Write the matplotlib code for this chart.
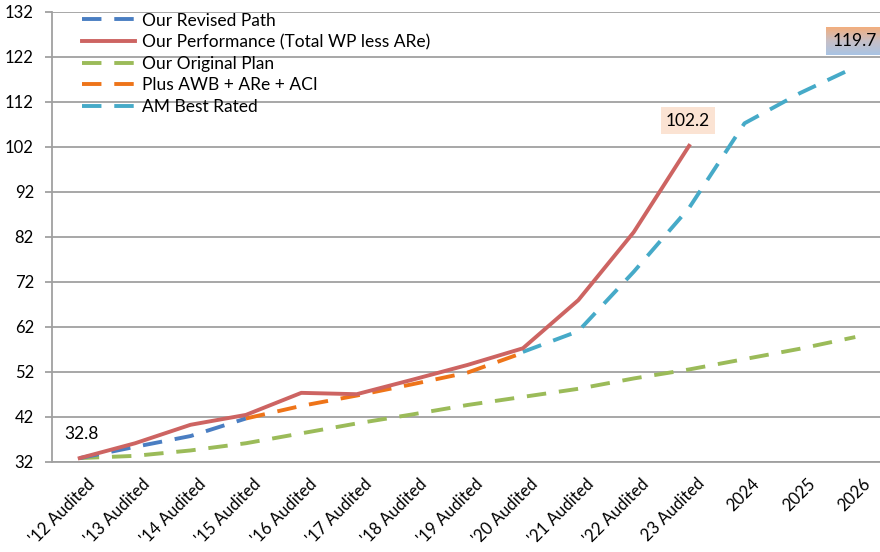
import matplotlib
matplotlib.use("Agg")
import matplotlib.pyplot as plt
import matplotlib.transforms as mtransforms
import numpy as np
from matplotlib.colors import LinearSegmentedColormap

categories = ["'12 Audited", "'13 Audited", "'14 Audited", "'15 Audited", "'16 Audited",
              "'17 Audited", "'18 Audited", "'19 Audited", "'20 Audited", "'21 Audited",
              "'22 Audited", "23 Audited", "2024", "2025", "2026"]

revised_path = [32.8, 35.3, 37.7, 41.6]
performance = [32.8, 36.1, 40.2, 42.4, 47.3, 47.0, 50.2, 53.5, 57.2, 67.9, 83.0, 102.2]
original_plan = [32.8, 33.3, 34.5, 36.1, 38.3, 40.5, 42.5, 44.6, 46.4, 48.2, 50.5, 52.5, 54.8, 57.1, 59.7]
plus_awb = [41.6, 44.4, 46.7, 49.2, 51.8, 56.2]
am_best = [56.4, 61.0, 74.2, 88.4, 107.2, 113.9, 119.7]

plt.rcParams["font.family"] = ["Lato", "DejaVu Sans"]

fig = plt.figure(figsize=(8.8, 5.52), dpi=100)
ax = fig.add_axes([52 / 880, (552 - 461.7) / 552, 831 / 880, 450 / 552])

x = np.arange(len(categories))
lw = 2.8
dash = (5.0, 3.3)

ax.plot(x[:len(revised_path)], revised_path, color="#4A7EC2", lw=lw, dashes=dash,
        label="Our Revised Path", zorder=4)
ax.plot(x[:len(performance)], performance, color="#CD6462", lw=lw,
        label="Our Performance (Total WP less ARe)", zorder=5)
ax.plot(x, original_plan, color="#9BBB59", lw=lw, dashes=dash,
        label="Our Original Plan", zorder=3)
ax.plot(x[3:3 + len(plus_awb)], plus_awb, color="#EE7419", lw=lw, dashes=dash,
        label="Plus AWB + ARe + ACI", zorder=4)
ax.plot(x[8:8 + len(am_best)], am_best, color="#46AAC8", lw=lw, dashes=dash,
        label="AM Best Rated", zorder=4)

ax.set_yticks(np.arange(32, 133, 10))
ax.grid(axis="y", color="#A0A0A0", lw=1.3)
ax.set_axisbelow(True)
for side in ["top", "right"]:
    ax.spines[side].set_visible(False)
for side in ["left", "bottom"]:
    ax.spines[side].set_color("#A0A0A0")
    ax.spines[side].set_linewidth(1.3)
ax.tick_params(axis="y", length=5, width=1.3, color="#A0A0A0", labelsize=12, pad=8)
ax.tick_params(axis="x", length=0, labelsize=12, pad=10)
ax.set_xticks(x)
ax.set_xticklabels(categories, rotation=45, ha="right", va="top", rotation_mode="anchor")
shift = mtransforms.ScaledTranslation(7 / 100, 0, fig.dpi_scale_trans)
for lab in ax.get_xticklabels():
    lab.set_transform(lab.get_transform() + shift)

# data labels
ax.text(0.03, 38.2, "32.8", fontsize=12.5, ha="center", va="center")
ax.text(10.98, 107.8, "102.2", fontsize=12.5, ha="center", va="center",
        bbox=dict(boxstyle="square,pad=0.3", facecolor="#FBE3D3", edgecolor="none"))

grad = LinearSegmentedColormap.from_list("g", ["#A9C4E4", "#C7BFC6", "#F2AE7E"])
ax.imshow(np.linspace(0, 1, 50).reshape(-1, 1), cmap=grad, origin="lower",
          extent=[13.47, 14.55, 122.4, 128.6], aspect="auto", zorder=6, clip_on=False)
ax.text(14.0, 125.5, "119.7", fontsize=12.5, ha="center", va="center", zorder=7)
ax.set_xlim(-0.5, len(categories) - 0.5)
ax.set_ylim(32, 132)

ax.legend(loc="upper left", bbox_to_anchor=(82 / 880, 1 - 12.5 / 552),
          bbox_transform=fig.transFigure, frameon=False, fontsize=12.5,
          handlelength=3.05, handletextpad=0.4, labelspacing=0.32, borderpad=0,
          borderaxespad=0)

fig.savefig("out.png", dpi=100)
